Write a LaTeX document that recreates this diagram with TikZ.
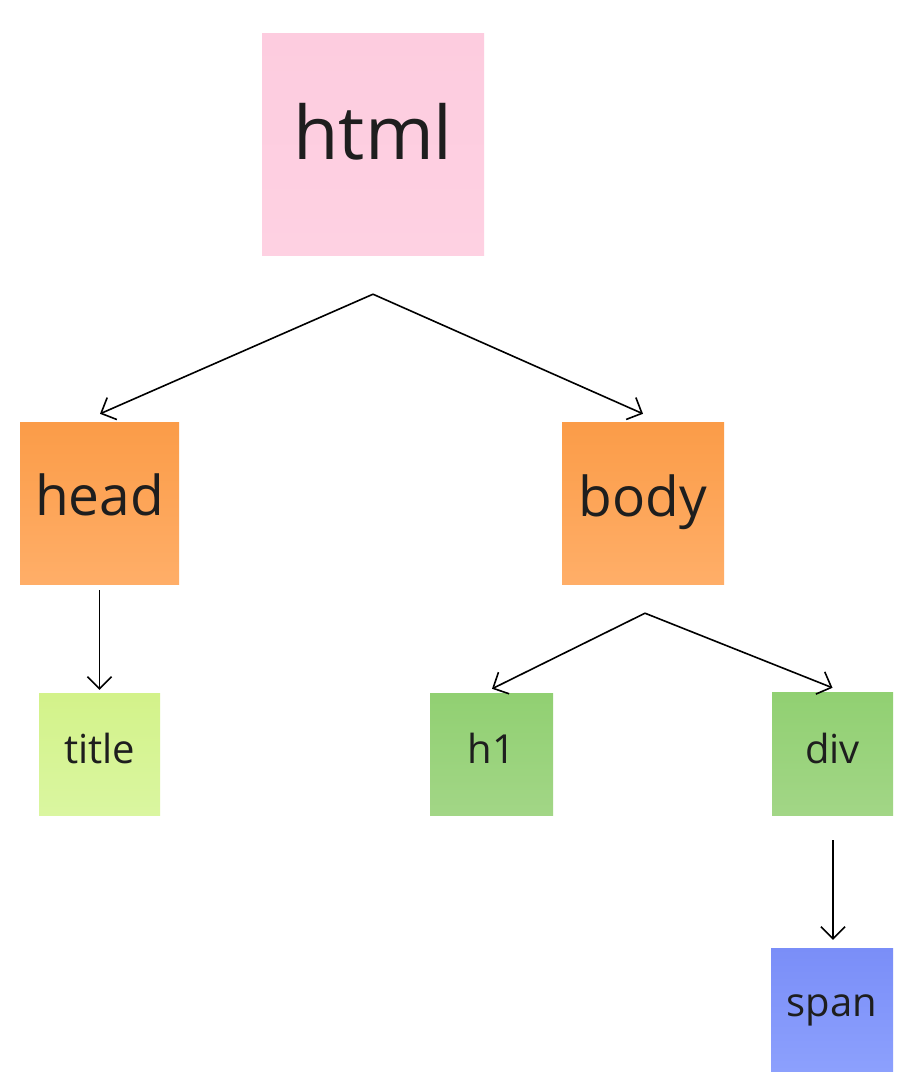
\documentclass[tikz,border=0pt]{standalone}
\usepackage{fontspec}
\setmainfont{Open Sans}
\usetikzlibrary{arrows.meta,calc}
\definecolor{pinkA}{HTML}{FDCCDF}
\definecolor{pinkB}{HTML}{FED1E2}
\definecolor{orgA}{HTML}{FB9C48}
\definecolor{orgB}{HTML}{FFAE68}
\definecolor{limeA}{HTML}{D3F28A}
\definecolor{limeB}{HTML}{DAF6A0}
\definecolor{grnA}{HTML}{91D072}
\definecolor{grnB}{HTML}{A2D686}
\definecolor{bluA}{HTML}{7A8EF8}
\definecolor{bluB}{HTML}{8CA0FD}
\definecolor{inktext}{HTML}{1E1E1E}
\newcommand{\basedrop}[2]{\raisebox{-#1pt}[0pt][0pt]{#2}}
\tikzset{
  sticky/.style={rectangle, inner sep=0pt, text=inktext, font=\fontsize{#1}{#1}\selectfont},
  conn/.style={line width=1.6pt, -{Straight Barb[length=12pt,width=24pt,line width=1.6pt]}}
}
\begin{document}
\begin{tikzpicture}[x=1pt,y=-1pt]
\useasboundingbox[fill=white] (0,0) rectangle (915,1092);
\node[sticky=74, minimum width=222pt, minimum height=222pt, top color=pinkA, bottom color=pinkB] (html) at (373,144) {\basedrop{15}{html}};
\node[sticky=55, minimum width=159pt, minimum height=162pt, top color=orgA, bottom color=orgB] (head) at (99.5,503) {\basedrop{12}{head}};
\node[sticky=55, minimum width=162pt, minimum height=162pt, top color=orgA, bottom color=orgB] (body) at (643,503) {\basedrop{13}{body}};
\node[sticky=40, minimum width=121pt, minimum height=122pt, top color=limeA, bottom color=limeB] (title) at (99.5,754) {\basedrop{9}{title}};
\node[sticky=40, minimum width=123pt, minimum height=122pt, top color=grnA, bottom color=grnB] (h1) at (491.5,754) {\basedrop{9}{h1}};
\node[sticky=40, minimum width=121pt, minimum height=123pt, top color=grnA, bottom color=grnB] (div) at (832.5,753.5) {\basedrop{9.5}{div}};
\node[sticky=40, minimum width=122pt, minimum height=123pt, top color=bluA, bottom color=bluB] (span) at (832,1009.5) {\basedrop{7}{span}};
\coordinate (htmlout) at ($(html.south)+(0,39)$);
\coordinate (bodyout) at ($(body.south)+(2,29)$);
\draw[conn] (htmlout) -- ($(head.north)+(0.5,-8)$);
\draw[conn] (htmlout) -- ($(body.north)+(0,-8)$);
\draw[conn] ($(head.south)+(0,6)$) -- ($(title.north)+(0,-3)$);
\draw[conn] (bodyout) -- ($(h1.north)+(0.5,-4)$);
\draw[conn] (bodyout) -- ($(div.north)+(0,-4)$);
\draw[conn] ($(div.south)+(0.5,25)$) -- ($(span.north)+(1,-8)$);
\end{tikzpicture}
\end{document}
